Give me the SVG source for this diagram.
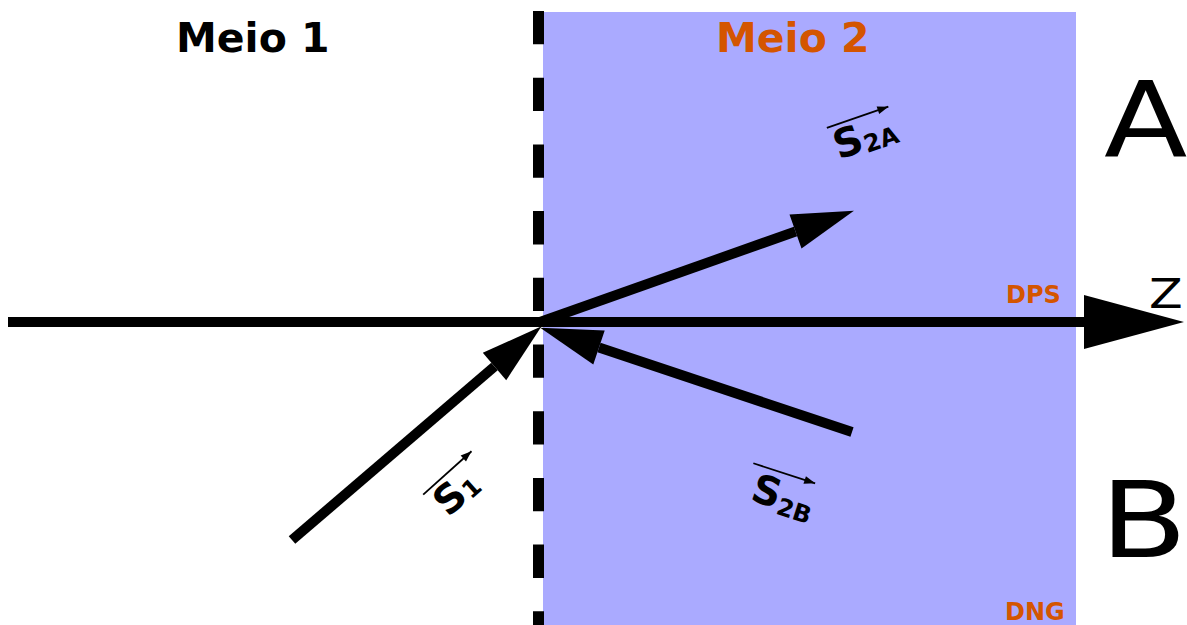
<svg xmlns="http://www.w3.org/2000/svg" width="1187" height="625" viewBox="0 0 1187 625">
<style>
.ttl{font-family:"DejaVu Sans",Verdana,sans-serif;font-weight:bold;font-size:41px}
.big{font-family:"DejaVu Sans",Verdana,sans-serif;font-size:106px;fill:#000}
.tag{font-family:"DejaVu Sans",Verdana,sans-serif;font-weight:bold;font-size:24px;fill:#d45500}
.sv{font-family:"DejaVu Sans",Verdana,sans-serif;font-weight:bold;fill:#000}
.shaft{stroke:#000;stroke-width:10;fill:none}
.vec{stroke:#000;stroke-width:1.8;fill:none;marker-end:url(#sm)}
</style>
<defs>
<marker id="hd" markerUnits="userSpaceOnUse" markerWidth="70" markerHeight="40" viewBox="0 -20 70 40" refX="0" refY="0" orient="auto" overflow="visible">
<path d="M0,-18 L62,0 L0,18 Z" fill="#000"/>
</marker>
<marker id="zh" markerUnits="userSpaceOnUse" markerWidth="104" markerHeight="60" viewBox="0 -30 104 60" refX="0" refY="0" orient="auto" overflow="visible">
<path d="M0,-27 L100,0 L0,27 Z" fill="#000"/>
</marker>
<marker id="sm" markerUnits="userSpaceOnUse" markerWidth="14" markerHeight="10" viewBox="0 -5 14 10" refX="11" refY="0" orient="auto" overflow="visible">
<path d="M0,-4 L11,0 L0,4 Z" fill="#000"/>
</marker>
</defs>
<rect width="1187" height="625" fill="#fff"/>
<g id="meio2-region"><rect x="543" y="12" width="533" height="613" fill="#aaaaff"/></g>
<g id="interface"><line x1="538.5" y1="11" x2="538.5" y2="625" stroke="#000" stroke-width="11" stroke-dasharray="33.3 33.4"/></g>
<g id="labels">
<text class="ttl" x="176" y="52" fill="#000">Meio 1</text>
<text class="ttl" x="716" y="52" fill="#d45500">Meio 2</text>
<text class="big" transform="translate(1104,157) scale(1.15,1)">A</text>
<text class="big" transform="translate(1100,557) scale(1.2,1)">B</text>
<text font-family="DejaVu Sans, Verdana, sans-serif" font-size="41" transform="translate(1149,308) scale(1.2,1)">Z</text>
<text class="tag" x="1006" y="303">DPS</text>
<text class="tag" x="1005" y="620">DNG</text>
</g>
<g id="connectors">
<line class="shaft" x1="8" y1="322" x2="1084" y2="322" marker-end="url(#zh)"/>
<line class="shaft" x1="292" y1="540" x2="494.5" y2="366.5" marker-end="url(#hd)"/>
<line class="shaft" x1="540" y1="322" x2="795.5" y2="231.5" marker-end="url(#hd)"/>
<line class="shaft" x1="852" y1="432" x2="599" y2="347.5" marker-end="url(#hd)"/>
</g>
<g id="S1" transform="translate(449.8,513.8) rotate(-42)">
<line class="vec" x1="-7" y1="-32" x2="58" y2="-32"/>
<text class="sv" x="-4" y="2" font-size="40">S</text>
<text class="sv" x="25" y="4" font-size="24">1</text>
</g>
<g id="S2A" transform="translate(842,156.5) rotate(-19)">
<line class="vec" x1="-5" y1="-32" x2="60" y2="-32"/>
<text class="sv" x="-4" y="2" font-size="40">S</text>
<text class="sv" x="25" y="5" font-size="24">2A</text>
</g>
<g id="S2B" transform="translate(753.3,499) rotate(18)">
<line class="vec" x1="-11" y1="-34" x2="54" y2="-34"/>
<text class="sv" x="-4" y="2" font-size="40">S</text>
<text class="sv" x="25" y="7" font-size="24">2B</text>
</g>
</svg>
